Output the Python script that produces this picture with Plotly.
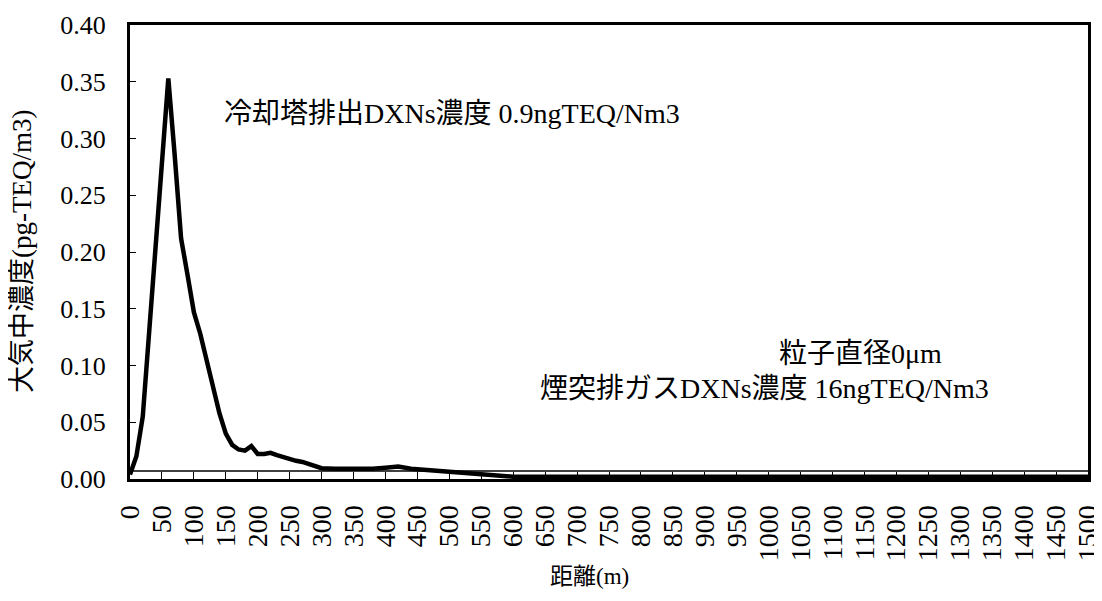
import plotly.graph_objects as go

# Distance (m) and concentration (pg-TEQ/m3) for the thick curve
distance_m = [0, 10, 20, 30, 40, 50, 60, 70, 80, 90, 100, 110, 120, 130, 140, 150,
              160, 170, 180, 190, 200, 210, 220, 230, 240, 250, 260, 270, 280, 290,
              300, 320, 350, 380, 400, 410, 420, 440, 460, 480, 500, 525, 550, 575,
              600, 650, 700, 750, 800, 850, 900, 950, 1000, 1050, 1100, 1150, 1200,
              1250, 1300, 1350, 1400, 1450, 1500]
conc_main = [0.004, 0.020, 0.055, 0.130, 0.205, 0.280, 0.353, 0.285, 0.212, 0.180,
             0.147, 0.128, 0.104, 0.080, 0.058, 0.040, 0.030, 0.026, 0.025, 0.029,
             0.022, 0.022, 0.023, 0.021, 0.019, 0.018, 0.016, 0.015, 0.013, 0.011,
             0.0095, 0.009, 0.009, 0.009, 0.010, 0.011, 0.011, 0.009, 0.008, 0.007,
             0.006, 0.005, 0.004, 0.003, 0.002, 0.002, 0.002, 0.002, 0.002, 0.002,
             0.002, 0.002, 0.002, 0.002, 0.002, 0.002, 0.002, 0.002, 0.002, 0.002,
             0.002, 0.002, 0.002]

# Thin near-constant line
distance_thin = [0, 100, 300, 500, 750, 1000, 1250, 1500]
conc_thin = [0.007, 0.007, 0.007, 0.0072, 0.0074, 0.0074, 0.0072, 0.007]

# Text
y_title = "大気中濃度(pg-TEQ/m3)"
x_title = "距離(m)"
note_tower = "冷却塔排出DXNs濃度 0.9ngTEQ/Nm3"
note_particle = "粒子直径0μm"
note_stack = "煙突排ガスDXNs濃度 16ngTEQ/Nm3"

FONT = "Liberation Serif, Noto Sans CJK JP"

fig = go.Figure()
fig.add_trace(go.Scatter(x=distance_thin, y=conc_thin, mode="lines",
                         line=dict(color="black", width=1.5), showlegend=False))
fig.add_trace(go.Scatter(x=distance_m, y=conc_main, mode="lines",
                         line=dict(color="black", width=4.5), showlegend=False))

# page body has an 8px margin, so the figure is sized to fit inside the window
fig.update_layout(
    width=1094, height=593,
    margin=dict(l=122, r=14, t=17, b=122),
    paper_bgcolor="white", plot_bgcolor="white",
    font=dict(family=FONT, color="black", size=22),
    showlegend=False,
)
fig.update_xaxes(range=[0, 1500], dtick=50, tick0=0, tickangle=-90,
                 showgrid=False, zeroline=False, automargin=False,
                 showline=True, linecolor="black", linewidth=3, mirror=True,
                 ticks="inside", ticklen=7, tickwidth=1, tickcolor="black",
                 tickfont=dict(family=FONT, size=28), ticklabelstandoff=12,
                 ticklabeloverflow="allow")
fig.update_yaxes(range=[0, 0.4], dtick=0.05, tick0=0, tickformat=".2f",
                 showgrid=False, zeroline=False, automargin=False,
                 showline=True, linecolor="black", linewidth=3, mirror=True,
                 ticks="inside", ticklen=6, tickwidth=1, tickcolor="black",
                 tickfont=dict(family=FONT, size=26), ticklabelstandoff=16,
                 ticklabeloverflow="allow")

fig.add_annotation(xref="paper", yref="paper", x=-0.1127, y=0.5, text=y_title,
                   textangle=-90, showarrow=False, font=dict(family=FONT, size=27),
                   xanchor="center", yanchor="middle")
fig.add_annotation(xref="paper", yref="paper", x=0.48, y=-0.215, text=x_title,
                   showarrow=False, font=dict(family=FONT, size=23),
                   xanchor="center", yanchor="middle")
fig.add_annotation(x=144, y=0.322, text=note_tower, showarrow=False,
                   xanchor="left", yanchor="middle", font=dict(family=FONT, size=28))
fig.add_annotation(x=1144, y=0.111, text=note_particle, showarrow=False,
                   xanchor="center", yanchor="middle", font=dict(family=FONT, size=28))
fig.add_annotation(x=994, y=0.080, text=note_stack, showarrow=False,
                   xanchor="center", yanchor="middle", font=dict(family=FONT, size=28))

fig.write_html("out.html")
